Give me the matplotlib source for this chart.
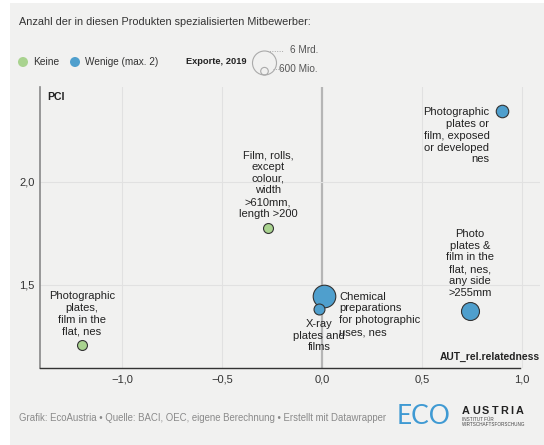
import numpy as np
import matplotlib
matplotlib.use("Agg")
import matplotlib.pyplot as plt
from matplotlib.patches import Rectangle, Circle

plt.rcParams['font.family'] = ['Liberation Sans', 'DejaVu Sans']

# ---- data ----
labels = [
    "Photographic\nplates,\nfilm in the\nflat, nes",
    "Film, rolls,\nexcept\ncolour,\nwidth\n>610mm,\nlength >200",
    "Photographic\nplates or\nfilm, exposed\nor developed\nnes",
    "Photo\nplates &\nfilm in the\nflat, nes,\nany side\n>255mm",
    "Chemical\npreparations\nfor photographic\nuses, nes",
    "X-ray\nplates and\nfilms",
]
relatedness = [-1.20, -0.27, 0.90, 0.74, 0.01, -0.015]
pci = [1.209, 1.777, 2.345, 1.374, 1.447, 1.383]
exports_mrd = [0.95, 0.95, 1.5, 3.1, 4.9, 1.15]
group = ["Keine", "Keine", "Wenige", "Wenige", "Wenige", "Wenige"]
group_colors = {"Keine": "#a9d38f", "Wenige": "#4f9fcd"}
xticks = [-1.0, -0.5, 0.0, 0.5, 1.0]
yticks = [1.5, 2.0]

W, H = 544, 445
fig = plt.figure(figsize=(W / 100, H / 100), dpi=100)
fig.patch.set_facecolor("white")
fig.add_artist(Rectangle((10 / W, 0), 1 - 10 / W, (H - 3) / H, transform=fig.transFigure,
                         facecolor="#f1f1f0", edgecolor="none", zorder=0))

ax = fig.add_axes([40 / W, 1 - 368 / H, 500 / W, (368 - 87) / H])
ax.set_facecolor("none")
ax.set_xlim(-1.41, 1.09)
ax.set_ylim(1.097, 2.461)

# grid
for xv in xticks:
    if xv == 0:
        ax.axvline(xv, color="#b5b5b5", lw=1.6, zorder=1)
    else:
        ax.axvline(xv, color="#e1e1e1", lw=0.8, zorder=1)
for yv in yticks:
    ax.axhline(yv, color="#e1e1e1", lw=0.8, zorder=1)

for s in ["top", "right"]:
    ax.spines[s].set_visible(False)
ax.spines["left"].set_color("#888888")
ax.spines["left"].set_linewidth(1.2)
ax.spines["bottom"].set_color("#333333")
ax.spines["bottom"].set_linewidth(1.0)
ax.spines["bottom"].set_bounds(-1.41, 0.99)

ax.set_xticks(xticks)
ax.set_xticklabels([("\u2212" if v < 0 else "") + f"{abs(v):.1f}".replace(".", ",") for v in xticks])
ax.set_yticks(yticks)
ax.set_yticklabels([f"{v:.1f}".replace(".", ",") for v in yticks])
ax.tick_params(length=0, labelsize=8, colors="#333333")
ax.tick_params(axis="x", pad=5)
ax.tick_params(axis="y", pad=4)

px2pt = 0.72
def size_of(v):
    r = 12.5 * np.sqrt(v / 6.0)
    return (2 * r * px2pt) ** 2

order = np.argsort(exports_mrd)[::-1]
for i in order:
    ax.scatter(relatedness[i], pci[i], s=size_of(exports_mrd[i]),
               color=group_colors[group[i]], edgecolor="#333333", linewidth=0.8, zorder=3)

fs = 8
tc = "#222222"
ls = 1.22
ax.annotate(labels[0], (relatedness[0], pci[0]), xytext=(0, 6), textcoords="offset points",
            ha="center", va="bottom", fontsize=fs, color=tc, linespacing=ls)
ax.annotate(labels[1], (relatedness[1], pci[1]), xytext=(0, 6.5), textcoords="offset points",
            ha="center", va="bottom", fontsize=fs, color=tc, linespacing=ls)
ax.annotate(labels[2], (relatedness[2], pci[2]), xytext=(-9, 2.5), textcoords="offset points",
            ha="right", va="top", fontsize=fs, color=tc, linespacing=ls, multialignment="right")
ax.annotate(labels[3], (relatedness[3], pci[3]), xytext=(0, 9.5), textcoords="offset points",
            ha="center", va="bottom", fontsize=fs, color=tc, linespacing=ls)
ax.annotate(labels[4], (relatedness[4], pci[4]), xytext=(11, 3), textcoords="offset points",
            ha="left", va="top", fontsize=fs, color=tc, linespacing=ls)
ax.annotate(labels[5], (relatedness[5], pci[5]), xytext=(0, -7), textcoords="offset points",
            ha="center", va="top", fontsize=fs, color=tc, linespacing=ls)

ax.text(7 / 500, 1 - 10 / 281, "PCI", transform=ax.transAxes, fontsize=7.6, fontweight="bold",
        color=tc, ha="left", va="center")
ax.text(1.0, 11 / 281, "AUT_rel.relatedness", transform=ax.transAxes, fontsize=7.4,
        fontweight="bold", color=tc, ha="right", va="center")

# overlay axes in pixel coordinates for header/footer
ax_leg = fig.add_axes([0, 0, 1, 1], facecolor="none")
ax_leg.set_xlim(0, W)
ax_leg.set_ylim(H, 0)
ax_leg.axis("off")

ax_leg.text(19, 22, "Anzahl der in diesen Produkten spezialisierten Mitbewerber:",
            fontsize=7.8, color="#333333", ha="left", va="center")

ly = 62
for cx, txt, col in [(23, "Keine", group_colors["Keine"]), (75, "Wenige (max. 2)", group_colors["Wenige"])]:
    ax_leg.add_patch(Circle((cx, ly), 5, facecolor=col, edgecolor="none"))
    ax_leg.text(cx + 10, ly, txt, fontsize=7.4 if txt == "Keine" else 7.2, color="#333333",
                ha="left", va="center")
ax_leg.text(186, ly, "Exporte, 2019", fontsize=6.7, fontweight="bold", color="#222222",
            ha="left", va="center")

# size legend
big_r = 12.0
small_r = big_r * np.sqrt(0.1)
base = 75
cx = 264.5
ax_leg.add_patch(Circle((cx, base - big_r), big_r, facecolor="none", edgecolor="#aaaaaa", lw=0.8))
ax_leg.add_patch(Circle((cx, base - small_r), small_r, facecolor="none", edgecolor="#aaaaaa", lw=0.8))
ax_leg.plot([cx + 2, 284], [base - 2 * big_r, base - 2 * big_r], ls=(0, (1, 1.5)), color="#aaaaaa", lw=0.7)
ax_leg.plot([cx + 8, 284], [69, 69], ls=(0, (1, 1.5)), color="#aaaaaa", lw=0.7)
ax_leg.text(318, 50, "6 Mrd.", fontsize=7.2, color="#555555", ha="right", va="center")
ax_leg.text(318, 69, "600 Mio.", fontsize=7.2, color="#555555", ha="right", va="center")

# footer
ax_leg.text(19, 418, "Grafik: EcoAustria \u2022 Quelle: BACI, OEC, eigene Berechnung \u2022 Erstellt mit Datawrapper",
            fontsize=6.9, color="#8a8a8a", ha="left", va="center")
ax_leg.text(397, 417, "ECO", fontsize=19, color="#3f9ad3", ha="left", va="center",
            family=["Lato", "DejaVu Sans"])

renderer = fig.canvas.get_renderer()
xpos = 462.0
for ch in "AUSTRIA":
    t = ax_leg.text(xpos, 411, ch, fontsize=7.8, fontweight="bold", color="#222222",
                    ha="left", va="center")
    wpx = t.get_window_extent(renderer=renderer).width
    xpos += wpx + 2.2
ax_leg.text(462, 419.5, "INSTITUT F\u00dcR", fontsize=3.3, color="#444444", ha="left", va="center")
ax_leg.text(462, 424, "WIRTSCHAFTSFORSCHUNG", fontsize=3.3, color="#444444", ha="left", va="center")

fig.savefig("out.png", dpi=100, facecolor=fig.get_facecolor())
